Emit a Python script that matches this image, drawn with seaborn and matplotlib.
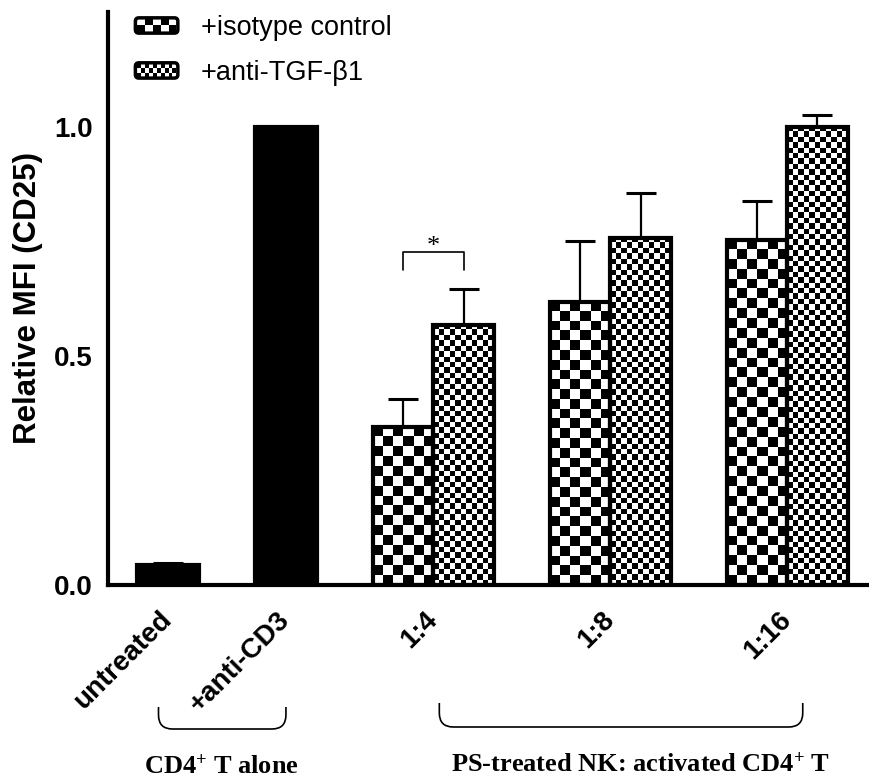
import numpy as np
import pandas as pd
import matplotlib
matplotlib.use("Agg")
import matplotlib.pyplot as plt
import seaborn as sns
from matplotlib.patches import Rectangle, FancyBboxPatch, PathPatch
from matplotlib.path import Path
from matplotlib.legend_handler import HandlerBase
from matplotlib.transforms import IdentityTransform

# ---------------- data ----------------
control_labels = ["untreated", "+anti-CD3"]
control_values = [0.044, 1.0]
control_err = [0.004, 0.0]

ratio_labels = ["1:4", "1:8", "1:16"]
series_names = ["+isotype control", "+anti-TGF-β1"]
isotype_values = [0.345, 0.618, 0.753]
isotype_err = [0.060, 0.133, 0.085]
antitgf_values = [0.568, 0.757, 1.0]
antitgf_err = [0.078, 0.098, 0.026]

ytick_values = [0.0, 0.5, 1.0]
ylabel = "Relative MFI (CD25)"
group_labels = ["CD4$^{+}$ T alone", "PS-treated NK: activated CD4$^{+}$ T"]
significance = "*"

# ---------------- layout ----------------
control_pos = [0.0, 1.0]
ratio_pos = [2.25, 3.75, 5.25]

sns.set_style("white")
plt.rcParams["font.family"] = ["Liberation Sans", "DejaVu Sans"]
plt.rcParams["mathtext.fontset"] = "custom"
plt.rcParams["mathtext.rm"] = "Liberation Serif:bold"
plt.rcParams["mathtext.bf"] = "Liberation Serif:bold"
plt.rcParams["mathtext.it"] = "Liberation Serif:bold"
for k in ["text.color", "axes.labelcolor", "xtick.color", "ytick.color", "axes.edgecolor"]:
    plt.rcParams[k] = "black"

W, H = 870, 778
fig = plt.figure(figsize=(W / 100, H / 100), dpi=100)
ax = fig.add_axes([108 / W, 1 - 585 / H, (W - 108) / W, (585 - 12) / H])

df_ctrl = pd.DataFrame({"pos": control_pos, "value": control_values})
df_grp = pd.DataFrame({
    "pos": ratio_pos * 2,
    "value": isotype_values + antitgf_values,
    "series": [series_names[0]] * 3 + [series_names[1]] * 3,
})

sns.barplot(data=df_ctrl, x="pos", y="value", native_scale=True, width=0.52,
            color="black", edgecolor="black", linewidth=3, errorbar=None,
            saturation=1, ax=ax, legend=False)
sns.barplot(data=df_grp, x="pos", y="value", hue="series", hue_order=series_names,
            native_scale=True, width=1.02 / 1.5, palette=["white", "white"],
            edgecolor="black", linewidth=3, errorbar=None, saturation=1,
            ax=ax, legend=False)

ax.set_xlim(-0.508, 5.95)
ax.set_ylim(0, 1.25)

patches = sorted(ax.patches, key=lambda p: p.get_x())
for p in patches:
    p.set_zorder(3)

# errors in the same left-to-right order as the bars
errs = control_err + [e for pair in zip(isotype_err, antitgf_err) for e in pair]
centers = [p.get_x() + p.get_width() / 2 for p in patches]
tops = [p.get_height() for p in patches]
ax.errorbar(centers, tops, yerr=[np.zeros(len(errs)), errs], fmt="none",
            ecolor="black", elinewidth=1.6, capsize=10.5, capthick=2.2, zorder=1)


# checkerboard textures clipped to the bars
def add_checker(patch, cell_px):
    x, y, w, h = patch.get_x(), patch.get_y(), patch.get_width(), patch.get_height()
    (px0, py0) = ax.transData.transform((x, y))
    (px1, py1) = ax.transData.transform((x + w, y + h))
    nx = max(1, int(round((px1 - px0) / cell_px)))
    ny = max(1, int(round((py1 - py0) / cell_px)))
    arr = np.indices((ny, nx)).sum(axis=0) % 2
    im = ax.imshow(arr, cmap="gray", vmin=0, vmax=1, extent=[x, x + w, y, y + h],
                   origin="upper", interpolation="nearest", aspect="auto", zorder=2)
    im.set_clip_path(patch)
    patch.set_facecolor("none")


group_patches = patches[2:]
for i, p in enumerate(group_patches):
    add_checker(p, 9.8 if i % 2 == 0 else 5.4)

ax.set_xlim(-0.508, 5.95)
ax.set_ylim(0, 1.25)

# axes styling
sns.despine(ax=ax)
for s in ["left", "bottom"]:
    ax.spines[s].set_linewidth(3)
    ax.spines[s].set_color("black")
ax.set_xticks(control_pos + ratio_pos)
ax.set_xticklabels(control_labels + ratio_labels, rotation=45, ha="right", va="center",
                   fontsize=20, fontweight="bold", rotation_mode="anchor")
ax.set_yticks(ytick_values)
ax.set_yticklabels([f"{v:.1f}" for v in ytick_values], fontsize=20, fontweight="bold")
ax.tick_params(axis="both", direction="out", length=7, width=3, color="black")
ax.tick_params(axis="x", pad=15)
ax.tick_params(axis="y", pad=4)
ax.set_xlabel("")
ax.set_ylabel(ylabel, fontsize=22.5, fontweight="bold")
ax.yaxis.set_label_coords(-0.085, 0.5)

# significance bracket
c_iso, c_anti = centers[2], centers[3]
ax.plot([c_iso, c_iso, c_anti, c_anti], [0.688, 0.727, 0.727, 0.688],
        color="black", lw=1.2, zorder=4, clip_on=False)
ax.text((c_iso + c_anti) / 2, 0.724, significance, ha="center", va="baseline",
        fontsize=19, family="Liberation Serif", zorder=4)


# legend with checker handles
class CheckerHandler(HandlerBase):
    def __init__(self, ncols, nrows):
        super().__init__()
        self.ncols, self.nrows = ncols, nrows

    def create_artists(self, legend, orig_handle, xdescent, ydescent, width,
                       height, fontsize, trans):
        x0, y0 = -xdescent, -ydescent
        artists = []
        pad = 2.0
        cw = (width - 2 * pad) / self.ncols
        ch = (height - 2 * pad) / self.nrows
        bg = Rectangle((x0 + pad, y0 + pad), width - 2 * pad, height - 2 * pad,
                       facecolor="white", edgecolor="none", transform=trans)
        artists.append(bg)
        for r in range(self.nrows):
            for c in range(self.ncols):
                if (r + c) % 2 == 0:
                    artists.append(Rectangle((x0 + pad + c * cw, y0 + pad + r * ch), cw, ch,
                                             facecolor="black", edgecolor="none",
                                             transform=trans))
        border = FancyBboxPatch((x0 + 1, y0 + 1), width - 2, height - 2,
                                boxstyle="round,pad=0,rounding_size=2.5",
                                facecolor="none", edgecolor="black", lw=2.5,
                                transform=trans)
        artists.append(border)
        return artists


h_iso = Rectangle((0, 0), 1, 1, label=series_names[0])
h_anti = Rectangle((0, 0), 1, 1, label=series_names[1])
fig.legend(handles=[h_iso, h_anti], labels=series_names,
           handler_map={h_iso: CheckerHandler(5, 2), h_anti: CheckerHandler(10, 3)},
           loc="upper left", bbox_to_anchor=(134 / W, 1 - 15 / H),
           frameon=False, fontsize=19.5, handlelength=1.67, handleheight=0.65,
           handletextpad=0.8, labelspacing=0.7, borderpad=0, borderaxespad=0)


# group braces below the axis
def brace(x0d, x1d, ytop, ybot, r=14):
    x0 = ax.transData.transform((x0d, 0))[0]
    x1 = ax.transData.transform((x1d, 0))[0]
    yt, yb = H - ytop, H - ybot
    verts = [(x0, yt), (x0, yb + r), (x0, yb), (x0 + r, yb), (x1 - r, yb),
             (x1, yb), (x1, yb + r), (x1, yt)]
    codes = [Path.MOVETO, Path.LINETO, Path.CURVE3, Path.CURVE3, Path.LINETO,
             Path.CURVE3, Path.CURVE3, Path.LINETO]
    fig.add_artist(PathPatch(Path(verts, codes), facecolor="none", edgecolor="black",
                             lw=1.2, transform=IdentityTransform()))


brace(-0.08, 1.0, 707, 729)
brace(2.30, 5.38, 703, 727)

fig.text(221 / W, 1 - 774 / H, group_labels[0], ha="center", va="baseline",
         fontsize=19, fontweight="bold", family="Liberation Serif")
fig.text(641 / W, 1 - 771 / H, group_labels[1], ha="center", va="baseline",
         fontsize=19, fontweight="bold", family="Liberation Serif")

fig.savefig("out.png", dpi=100)
